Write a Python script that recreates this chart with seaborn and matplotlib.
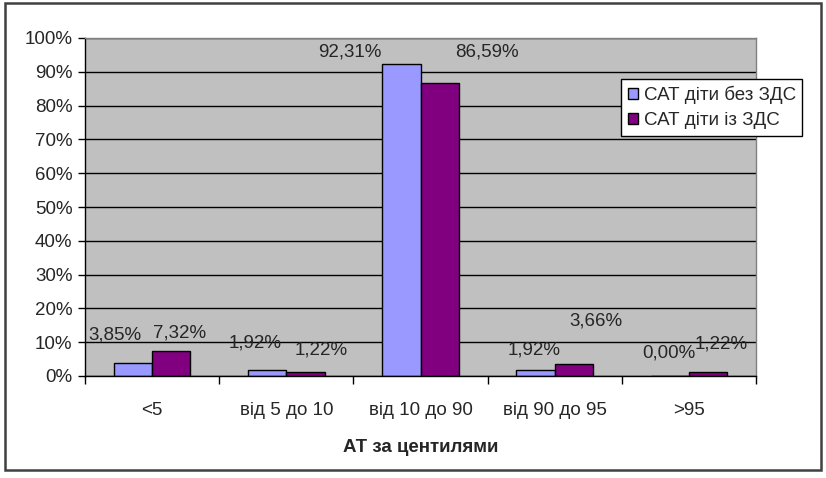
import pandas as pd
import numpy as np
import seaborn as sns
import matplotlib.pyplot as plt
from matplotlib.patches import Rectangle
from matplotlib.ticker import PercentFormatter

categories = ["<5", "від 5 до 10", "від 10 до 90", "від 90 до 95", ">95"]
no_zds = [3.85, 1.92, 92.31, 1.92, 0.00]
with_zds = [7.32, 1.22, 86.59, 3.66, 1.22]
series = ["САТ діти без ЗДС", "САТ діти із ЗДС"]

# label offsets in pixels from the bar top (Excel shuffled them around)
off_no = [(-18, 28), (-12, 27), (-52, 12), (-1, 20), (-1, 23)]
off_with = [(8, 18), (16, 22), (47, 31), (22, 43), (13, 28)]

df = pd.DataFrame({
    "cat": categories * 2,
    "val": no_zds + with_zds,
    "series": [series[0]] * 5 + [series[1]] * 5,
})

sns.set_style("white")
plt.rcParams['font.family'] = ['Liberation Sans', 'DejaVu Sans']
fs = 13.5

fig = plt.figure(figsize=(8.26, 4.78), dpi=100)
fig.patches.append(Rectangle((5 / 826, 1 - 470 / 478), 816 / 826, 467 / 478,
                             transform=fig.transFigure, fill=False,
                             edgecolor="#404040", linewidth=1.8))
ax = fig.add_axes([85 / 826, 102 / 478, 671 / 826, 338 / 478])
ax.set_facecolor("#C0C0C0")

sns.barplot(data=df, x="cat", y="val", hue="series", order=categories,
            hue_order=series, palette=["#9999FF", "#800080"], width=0.57,
            gap=0, edgecolor="black", linewidth=1, saturation=1, ax=ax)

ax.set_ylim(0, 100)
ax.set_xlim(-0.5, 4.5)
ax.set_yticks(np.arange(0, 101, 10))
ax.yaxis.set_major_formatter(PercentFormatter(decimals=0))
ax.grid(axis="y", color="black", linewidth=1)
ax.set_axisbelow(True)
ax.tick_params(axis="y", left=True, length=5, width=1, color="black",
               labelsize=fs, pad=4)
ax.tick_params(axis="x", which="major", length=0, labelsize=fs, pad=19)
ax.set_xticks(np.arange(-0.5, 5, 1), minor=True)
ax.tick_params(axis="x", which="minor", bottom=True, length=6, width=1,
               color="black")
for s in ["left", "bottom"]:
    ax.spines[s].set_color("black")
    ax.spines[s].set_linewidth(1)
for s in ["top", "right"]:
    ax.spines[s].set_color("#808080")
    ax.spines[s].set_linewidth(1)
ax.set_ylabel("")
ax.set_xlabel("АТ за центилями", fontsize=fs, fontweight="bold", labelpad=14)

containers = ax.containers
for cont, offs in zip(containers, [off_no, off_with]):
    for bar, (dx, dy) in zip(cont, offs):
        h = bar.get_height()
        ax.annotate(f"{h:.2f}%".replace(".", ","),
                    (bar.get_x() + bar.get_width() / 2, h),
                    xytext=(dx, dy), textcoords="offset pixels",
                    ha="center", va="center", fontsize=fs)

leg = ax.legend(loc="upper left", bbox_to_anchor=(621 / 826, 1 - 79 / 478),
                bbox_transform=fig.transFigure, fontsize=fs, frameon=True,
                fancybox=False, edgecolor="black", framealpha=1,
                handlelength=0.55, handleheight=0.55, handletextpad=0.3,
                borderpad=0.35, labelspacing=0.45, borderaxespad=0)
leg.get_frame().set_linewidth(1)

fig.savefig("out.png", dpi=100)
